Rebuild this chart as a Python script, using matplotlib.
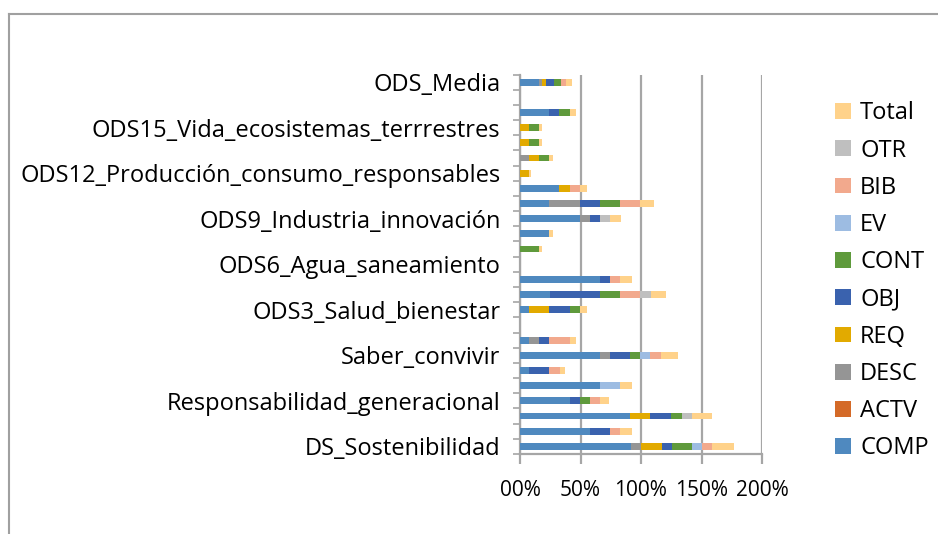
import numpy as np
import matplotlib

matplotlib.use('Agg')
import matplotlib.pyplot as plt
from matplotlib.lines import Line2D

plt.rcParams['font.family'] = ['Open Sans', 'DejaVu Sans']

# rows from bottom to top, only every third one is labelled
labels = ['DS_Sostenibilidad', '', '', 'Responsabilidad_generacional', '', '',
          'Saber_convivir', '', '', 'ODS3_Salud_bienestar', '', '',
          'ODS6_Agua_saneamiento', '', '', 'ODS9_Industria_innovación', '', '',
          'ODS12_Producción_consumo_responsables', '', '',
          'ODS15_Vida_ecosistemas_terrrestres', '', '', 'ODS_Media']

COMP = [91.7, 58.0, 91.2, 41.4, 66.3, 7.5, 66.3, 7.5, 0, 7.5, 24.9, 66.3, 0,
        0, 24.0, 49.7, 24.0, 32.3, 0, 0, 0, 0, 24.0, 0, 15.7]
ACTV = [0] * 25
DESC = [8.3, 0, 0, 0, 0, 0, 8.3, 8.3, 0, 0, 0, 0, 0,
        0, 0, 8.3, 25.7, 0, 0, 7.5, 0, 0, 0, 0, 2.5]
REQ = [17.4, 0, 16.6, 0, 0, 0, 0, 0, 0, 16.6, 0, 0, 0,
       0, 0, 0, 0, 9.1, 7.5, 8.3, 7.5, 7.5, 0, 0, 3.3]
OBJ = [8.3, 16.6, 17.4, 8.3, 0, 16.6, 16.6, 8.3, 0, 17.4, 41.4, 8.3, 0,
       0, 0, 8.3, 16.6, 0, 0, 0, 0, 0, 8.3, 0, 6.6]
CONT = [16.6, 0, 8.3, 8.3, 0, 0, 8.3, 0, 0, 8.3, 16.6, 0, 0,
        15.7, 0, 0, 16.6, 0, 0, 8.3, 8.3, 8.3, 9.1, 0, 5.8]
EV = [8.3, 0, 0, 0, 16.6, 0, 8.3, 0, 0, 0, 0, 0, 0,
      0, 0, 0, 0, 0, 0, 0, 0, 0, 0, 0, 0]
BIB = [8.3, 8.3, 0, 8.3, 0, 9.1, 9.1, 17.4, 0, 0, 16.6, 8.3, 0,
       0, 0, 0, 16.6, 8.3, 0, 0, 0, 0, 0, 0, 4.1]
OTR = [0, 0, 8.3, 0, 0, 0, 0, 0, 0, 0, 9.1, 0, 0,
       0, 0, 8.3, 0, 0, 0, 0, 0, 0, 0, 0, 0]
Total = [18.0, 9.9, 16.6, 7.5, 9.9, 4.1, 13.3, 5.0, 0, 5.8, 12.4, 9.9, 0,
         2.5, 3.3, 9.1, 11.6, 5.8, 1.7, 3.3, 2.5, 2.5, 5.0, 0, 5.0]

series = [('COMP', COMP, '#4F89BF'), ('ACTV', ACTV, '#D46A28'),
          ('DESC', DESC, '#959595'), ('REQ', REQ, '#E2AA00'),
          ('OBJ', OBJ, '#3A62AE'), ('CONT', CONT, '#5F9A3C'),
          ('EV', EV, '#9DBCE2'), ('BIB', BIB, '#F2A98D'),
          ('OTR', OTR, '#BFBFBF'), ('Total', Total, '#FFD28A')]

xticks = [0, 50, 100, 150, 200]
xticklabels = ['00%', '50%', '100%', '150%', '200%']

fig = plt.figure(figsize=(9.38, 5.34), dpi=100)
ax = fig.add_axes([520 / 938, 1 - 454 / 534, 242 / 938, 379.5 / 534])

y = np.arange(len(labels))
left = np.zeros(len(labels))
for name, vals, col in series:
    vals = np.array(vals, dtype=float)
    ax.barh(y, vals, left=left, height=0.45, color=col, label=name, zorder=3)
    left += vals

ax.set_xlim(0, 200)
ax.set_ylim(-0.5, len(labels) - 0.5)
ax.set_xticks(xticks)
ax.set_xticklabels(xticklabels, fontsize=15)
ax.set_yticks(y[::3])
ax.set_yticklabels(labels[::3], fontsize=17)
ax.set_yticks(np.arange(-0.5, len(labels)), minor=True)

grid_col = '#A6A6A6'
ax.grid(axis='x', color=grid_col, linewidth=1.6, zorder=0)
for s in ['top', 'right']:
    ax.spines[s].set_visible(False)
for s in ['left', 'bottom']:
    ax.spines[s].set_color(grid_col)
    ax.spines[s].set_linewidth(1.6)
ax.tick_params(axis='y', which='major', length=0, pad=14)
ax.tick_params(axis='y', which='minor', length=5, width=1.2, color=grid_col)
ax.tick_params(axis='x', length=7, width=1.6, color=grid_col, pad=12)

h, l = ax.get_legend_handles_labels()
fig.legend(h[::-1], l[::-1], loc='upper left', bbox_to_anchor=(826 / 938, 1 - 92 / 534),
           frameon=False, fontsize=17, handlelength=0.65, handleheight=0.65,
           handletextpad=0.4, labelspacing=0.56, borderaxespad=0)

# chart border, cropped on the right and bottom
fig.add_artist(Line2D([8.5 / 938, 8.5 / 938], [0, 1 - 14 / 534], color='#A0A0A0', lw=1.5))
fig.add_artist(Line2D([8.5 / 938, 1], [1 - 14 / 534, 1 - 14 / 534], color='#A0A0A0', lw=1.5))

fig.savefig('out.png', dpi=100)
